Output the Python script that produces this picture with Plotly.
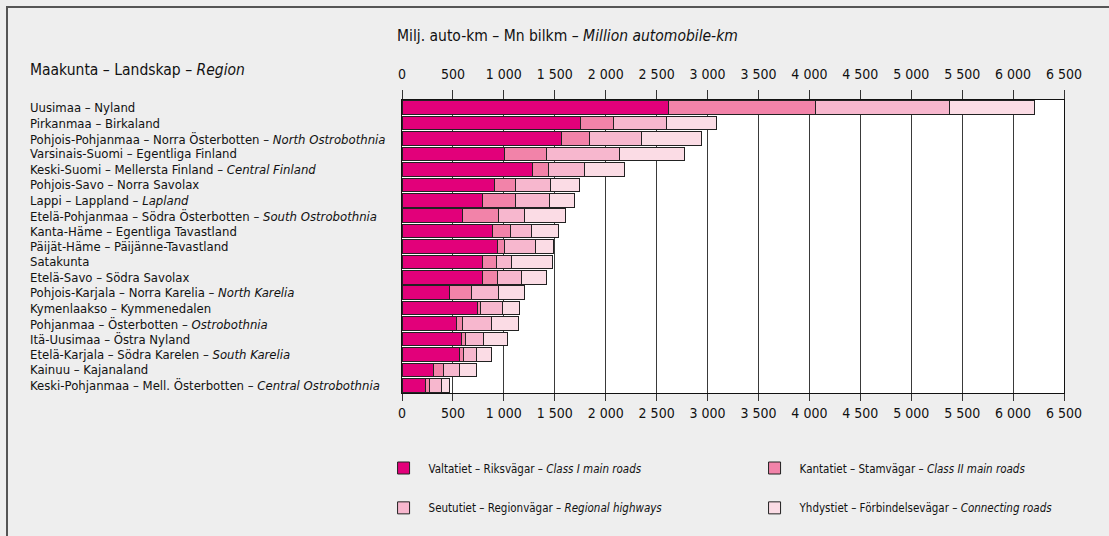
import plotly.graph_objects as go

regions_fi = ["Uusimaa", "Pirkanmaa", "Pohjois-Pohjanmaa", "Varsinais-Suomi", "Keski-Suomi",
              "Pohjois-Savo", "Lappi", "Etelä-Pohjanmaa", "Kanta-Häme", "Päijät-Häme",
              "Satakunta", "Etelä-Savo", "Pohjois-Karjala", "Kymenlaakso", "Pohjanmaa",
              "Itä-Uusimaa", "Etelä-Karjala", "Kainuu", "Keski-Pohjanmaa"]
regions_sv = ["Nyland", "Birkaland", "Norra Österbotten", "Egentliga Finland", "Mellersta Finland",
              "Norra Savolax", "Lappland", "Södra Österbotten", "Egentliga Tavastland", "Päijänne-Tavastland",
              "", "Södra Savolax", "Norra Karelia", "Kymmenedalen", "Österbotten",
              "Östra Nyland", "Södra Karelen", "Kajanaland", "Mell. Österbotten"]
regions_en = ["", "", "North Ostrobothnia", "", "Central Finland",
              "", "Lapland", "South Ostrobothnia", "", "",
              "", "", "North Karelia", "", "Ostrobothnia",
              "", "South Karelia", "", "Central Ostrobothnia"]

class1 = [2615, 1757, 1568, 1011, 1286, 910, 789, 592, 890, 939, 792, 792, 465, 743, 537, 586, 566, 311, 232]
class2 = [1447, 318, 272, 406, 154, 209, 327, 354, 180, 66, 138, 144, 216, 26, 55, 39, 40, 98, 40]
regional = [1309, 524, 510, 720, 354, 337, 330, 259, 197, 304, 147, 239, 265, 213, 289, 174, 124, 154, 114]
connecting = [844, 487, 589, 635, 395, 282, 249, 399, 268, 183, 399, 242, 259, 167, 261, 239, 151, 164, 79]

series_names = ["Valtatiet – Riksvägar – <i>Class I main roads</i>",
                "Kantatiet – Stamvägar – <i>Class II main roads</i>",
                "Seututiet – Regionvägar – <i>Regional highways</i>",
                "Yhdystiet – Förbindelsevägar – <i>Connecting roads</i>"]
series_colors = ["#E2007A", "#F283A9", "#F7B7CE", "#FBDCE5"]

tick_vals = list(range(0, 6501, 500))
tick_text = ["0", "500", "1 000", "1 500", "2 000", "2 500", "3 000", "3 500",
             "4 000", "4 500", "5 000", "5 500", "6 000", "6 500"]

FONT = "Liberation Sans Narrow, Arial Narrow, DejaVu Sans Condensed, sans-serif"

labels = []
for fi, sv, en in zip(regions_fi, regions_sv, regions_en):
    s = fi
    if sv:
        s += " – " + sv
    if en:
        s += " – <i>" + en + "</i>"
    labels.append(s)

fig = go.Figure()
legends = ["legend", "legend2", "legend3", "legend4"]
for vals, name, col, lg in zip([class1, class2, regional, connecting], series_names, series_colors, legends):
    fig.add_trace(go.Bar(
        y=regions_fi, x=vals, orientation="h", name=name,
        marker=dict(color=col, line=dict(color="#222222", width=1)),
        legend=lg,
    ))

# empty helper trace so that the top axis is drawn
fig.add_trace(go.Scatter(x=[], y=[], xaxis="x2", yaxis="y", showlegend=False, hoverinfo="skip"))

for reg, lab in zip(regions_fi, labels):
    fig.add_annotation(x=-0.565, xref="paper", y=reg, yref="y", text=lab,
                       showarrow=False, xanchor="left", yanchor="middle",
                       font=dict(family=FONT, size=13, color="#111"))

fig.add_annotation(x=-0.011, xref="paper", y=1.218, yref="paper", yanchor="middle", xanchor="left",
                   text="Milj. auto-km – Mn bilkm – <i>Million automobile-km</i>", showarrow=False,
                   font=dict(family=FONT, size=15.5, color="#111"))
fig.add_annotation(x=-0.565, xref="paper", y=1.102, yref="paper", yanchor="middle", xanchor="left",
                   text="Maakunta – Landskap – <i>Region</i>", showarrow=False,
                   font=dict(family=FONT, size=15.5, color="#111"))

# outer frame (top and left visible)
fig.add_shape(type="rect", xref="paper", yref="paper",
              x0=(7 - 402) / 662, x1=(1200 - 402) / 662,
              y0=(393 - 640) / 293, y1=(393 - 7) / 293,
              line=dict(color="#555555", width=2), fillcolor="rgba(0,0,0,0)", layer="below")

axis_common = dict(range=[0, 6500], tickvals=tick_vals, ticktext=tick_text,
                   ticks="outside", tickcolor="#333", tickwidth=1,
                   showgrid=True, gridcolor="#3a3a3a", gridwidth=1,
                   showline=True, linecolor="#111", linewidth=1,
                   tickfont=dict(family=FONT, size=14, color="#111"),
                   zeroline=False, fixedrange=True)

leg_common = dict(orientation="v", xanchor="left", yanchor="middle", itemwidth=40,
                  font=dict(family=FONT, size=11.5, color="#111"), bgcolor="rgba(0,0,0,0)")
col1_x = -0.0354
col2_x = 0.525
row1_y = -0.256
row2_y = -0.392

fig.update_layout(
    width=1109, height=536,
    margin=dict(l=402, r=45, t=100, b=143),
    paper_bgcolor="#EEEEEE", plot_bgcolor="#FFFFFF",
    barmode="stack", bargap=0.12,
    font=dict(family=FONT, color="#111"),
    xaxis=dict(**axis_common, side="bottom", ticklen=7, ticklabelstandoff=0),
    xaxis2=dict(**axis_common, side="top", overlaying="x", anchor="y", ticklen=9,
                ticklabelstandoff=5),
    yaxis=dict(autorange=False, range=[18.5, -0.5], showticklabels=False, ticks="",
               showline=True, linecolor="#111", linewidth=1, mirror=True, showgrid=False,
               type="category", fixedrange=True),
    legend=dict(**leg_common, x=col1_x, y=row1_y),
    legend2=dict(**leg_common, x=col2_x, y=row1_y),
    legend3=dict(**leg_common, x=col1_x, y=row2_y),
    legend4=dict(**leg_common, x=col2_x, y=row2_y),
    showlegend=True,
)

fig.write_html("out.html", post_script="document.body.style.margin='0';",
               config={"displayModeBar": False})
